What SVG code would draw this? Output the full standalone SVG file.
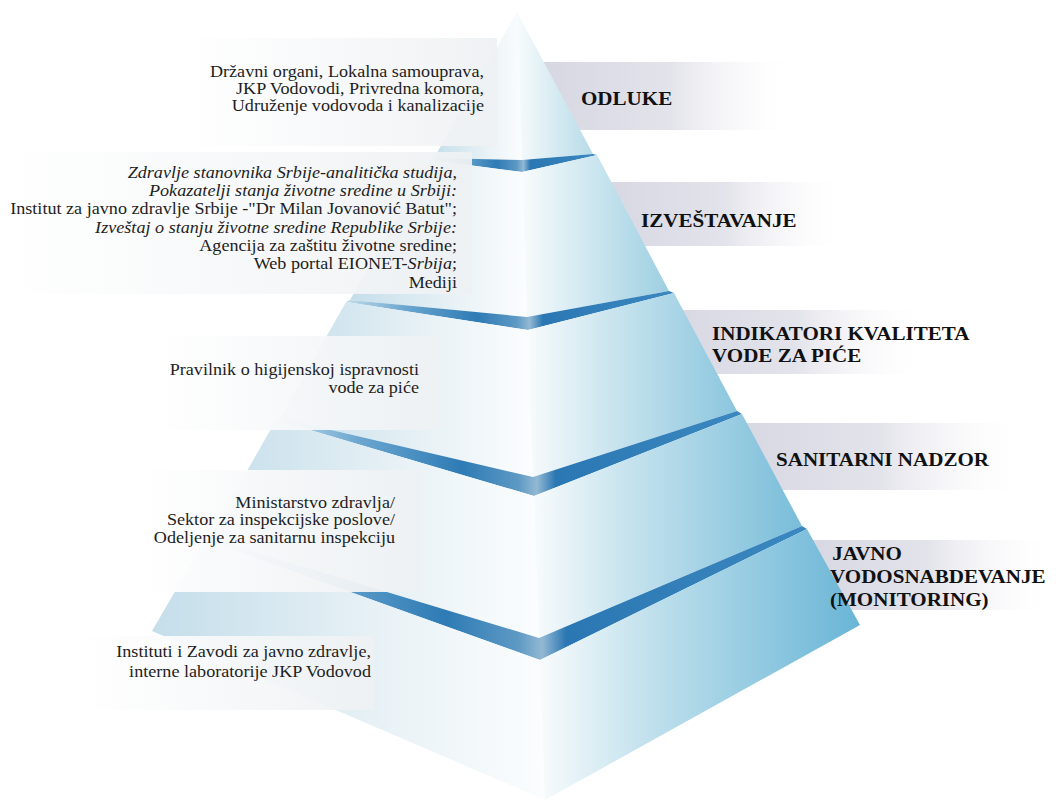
<svg xmlns="http://www.w3.org/2000/svg" width="1056" height="807" viewBox="0 0 1056 807">
<defs>
  <linearGradient id="gLab" x1="0" y1="0" x2="1" y2="0">
    <stop offset="0" stop-color="#d6d7e2"/>
    <stop offset="0.5" stop-color="#e3e3eb"/>
    <stop offset="1" stop-color="#ffffff" stop-opacity="0"/>
  </linearGradient>
  <linearGradient id="gL" x1="0" y1="0" x2="1" y2="0">
    <stop offset="0" stop-color="#c4deea"/>
    <stop offset="0.6" stop-color="#e9f2f6"/>
    <stop offset="1" stop-color="#fbfdfe"/>
  </linearGradient>
  <linearGradient id="gR1" x1="0" y1="0" x2="1" y2="0">
    <stop offset="0" stop-color="#f7fbfc"/>
    <stop offset="1" stop-color="#b6dbe8"/>
  </linearGradient>
  <linearGradient id="gR2" x1="0" y1="0" x2="1" y2="0">
    <stop offset="0" stop-color="#f8fbfc"/>
    <stop offset="0.35" stop-color="#d8ecf3"/>
    <stop offset="1" stop-color="#9dcfe1"/>
  </linearGradient>
  <linearGradient id="gR3" x1="0" y1="0" x2="1" y2="0">
    <stop offset="0" stop-color="#f8fbfc"/>
    <stop offset="0.35" stop-color="#cfe7f0"/>
    <stop offset="1" stop-color="#8bc6de"/>
  </linearGradient>
  <linearGradient id="gR4" x1="0" y1="0" x2="1" y2="0">
    <stop offset="0" stop-color="#f8fbfc"/>
    <stop offset="0.35" stop-color="#c6e3ee"/>
    <stop offset="1" stop-color="#79bdd9"/>
  </linearGradient>
  <linearGradient id="gR5" x1="0" y1="0" x2="1" y2="0">
    <stop offset="0" stop-color="#f8fbfc"/>
    <stop offset="0.35" stop-color="#bfe0ec"/>
    <stop offset="1" stop-color="#69b5d6"/>
  </linearGradient>
  <linearGradient id="gB" x1="0" y1="0" x2="1" y2="0">
    <stop offset="0" stop-color="#c2dcea"/>
    <stop offset="0.18" stop-color="#6aa6cf"/>
    <stop offset="0.4" stop-color="#2e7bb5"/>
    <stop offset="0.52" stop-color="#5d99c4"/>
    <stop offset="0.56" stop-color="#93b9d3"/>
    <stop offset="0.6" stop-color="#2b77b3"/>
    <stop offset="1" stop-color="#3b88c0"/>
  </linearGradient>
  <linearGradient id="gBox" x1="0" y1="0" x2="1" y2="0">
    <stop offset="0" stop-color="#ffffff" stop-opacity="0.96"/>
    <stop offset="1" stop-color="#eef1f3" stop-opacity="0.94"/>
  </linearGradient>
  <style>
    .lab { fill: url(#gLab); }
    .lf { fill: url(#gL); }
    .band { fill: url(#gB); }
    .box { fill: url(#gBox); }
    .t { font-family: "Liberation Serif", "Times New Roman", serif; font-size: 16.2px; fill: #1e1e1e; text-anchor: end; }
    .it { font-style: italic; }
    .h { font-family: "Liberation Serif", "Times New Roman", serif; font-size: 19.5px; font-weight: bold; fill: #111; }
  </style>
</defs>
<rect width="1056" height="807" fill="#ffffff"/>

<g id="label-bands">
  <rect class="lab" x="540" y="62" width="260" height="68"/>
  <rect class="lab" x="600" y="182" width="250" height="64"/>
  <rect class="lab" x="660" y="310" width="270" height="64"/>
  <rect class="lab" x="730" y="423" width="300" height="67"/>
  <rect class="lab" x="800" y="540" width="256" height="70"/>
</g>

<g id="tier1">
  <polygon class="lf" points="517,12 434,158 522,160"/>
  <polygon fill="url(#gR1)" points="517,12 522,160 593,154"/>
</g>
<g id="tier2">
  <polygon class="band" points="430,160 522,172 597,155 593,154 522,160 434,158"/>
  <polygon class="lf" points="430,160 522,172 527,317 350,300"/>
  <polygon fill="url(#gR2)" points="522,172 597,155 669,291 527,317"/>
</g>
<g id="tier3">
  <polygon class="band" points="346,302 528,330 674,293 669,291 527,317 350,300"/>
  <polygon class="lf" points="346,302 528,330 533,477 280,418"/>
  <polygon fill="url(#gR3)" points="528,330 674,293 737,411 533,477"/>
</g>
<g id="tier4">
  <polygon class="band" points="276,420 534,496 742,414 737,411 533,477 280,418"/>
  <polygon class="lf" points="276,420 534,496 539,638 209,538"/>
  <polygon fill="url(#gR4)" points="534,496 742,414 802,526 539,638"/>
</g>
<g id="tier5">
  <polygon class="band" points="205,540 540,660 807,529 802,526 539,638 209,538"/>
  <polygon class="lf" points="205,540 540,660 545,800 152,631"/>
  <polygon fill="url(#gR5)" points="540,660 807,529 860,625 545,800"/>
</g>

<g id="boxes">
  <rect class="box" x="185" y="38" width="312" height="108"/>
  <rect class="box" x="0" y="152" width="472" height="142"/>
  <rect class="box" x="150" y="336" width="290" height="94"/>
  <rect class="box" x="140" y="470" width="280" height="122"/>
  <rect class="box" x="80" y="636" width="294" height="74"/>
</g>

<g id="node-odluke">
  <g transform="translate(484 0) scale(1.12 1)">
    <text class="t" x="0" y="77.5">Državni organi, Lokalna samouprava,</text>
    <text class="t" x="0" y="94.5">JKP Vodovodi, Privredna komora,</text>
    <text class="t" x="0" y="111.5">Udruženje vodovoda i kanalizacije</text>
  </g>
  <g transform="translate(581 0) scale(1.08 1)">
    <text class="h" x="0" y="105">ODLUKE</text>
  </g>
</g>
<g id="node-izvestavanje">
  <g transform="translate(457 0) scale(1.12 1)">
    <text class="t" x="0" y="178"><tspan class="it">Zdravlje stanovnika Srbije-analitička studija</tspan>,</text>
    <text class="t it" x="0" y="196">Pokazatelji stanja životne sredine u Srbiji:</text>
    <text class="t" x="0" y="214.5">Institut za javno zdravlje Srbije -"Dr Milan Jovanović Batut";</text>
    <text class="t it" x="0" y="233">Izveštaj o stanju životne sredine Republike Srbije:</text>
    <text class="t" x="0" y="251">Agencija za zaštitu životne sredine;</text>
    <text class="t" x="0" y="269.5">Web portal EIONET-<tspan class="it">Srbija</tspan>;</text>
    <text class="t" x="0" y="288">Mediji</text>
  </g>
  <g transform="translate(641 0) scale(1.08 1)">
    <text class="h" x="0" y="227">IZVEŠTAVANJE</text>
  </g>
</g>
<g id="node-indikatori">
  <g transform="translate(419 0) scale(1.12 1)">
    <text class="t" x="0" y="375">Pravilnik o higijenskoj ispravnosti</text>
    <text class="t" x="0" y="393">vode za piće</text>
  </g>
  <g transform="translate(712 0) scale(1.08 1)">
    <text class="h" x="0" y="340">INDIKATORI KVALITETA</text>
    <text class="h" x="0" y="362">VODE ZA PIĆE</text>
  </g>
</g>
<g id="node-sanitarni">
  <g transform="translate(395 0) scale(1.12 1)">
    <text class="t" x="0" y="508">Ministarstvo zdravlja/</text>
    <text class="t" x="0" y="525.5">Sektor za inspekcijske poslove/</text>
    <text class="t" x="0" y="543">Odeljenje za sanitarnu inspekciju</text>
  </g>
  <g transform="translate(776 0) scale(1.08 1)">
    <text class="h" x="0" y="466">SANITARNI NADZOR</text>
  </g>
</g>
<g id="node-javno">
  <g transform="translate(371 0) scale(1.12 1)">
    <text class="t" x="0" y="657">Instituti i Zavodi za javno zdravlje,</text>
    <text class="t" x="0" y="677">interne laboratorije JKP Vodovod</text>
  </g>
  <g transform="translate(830 0) scale(1.08 1)">
    <text class="h" x="2" y="560">JAVNO</text>
    <text class="h" x="0" y="583">VODOSNABDEVANJE</text>
    <text class="h" x="0" y="606">(MONITORING)</text>
  </g>
</g>
<g id="connectors"/>
</svg>
